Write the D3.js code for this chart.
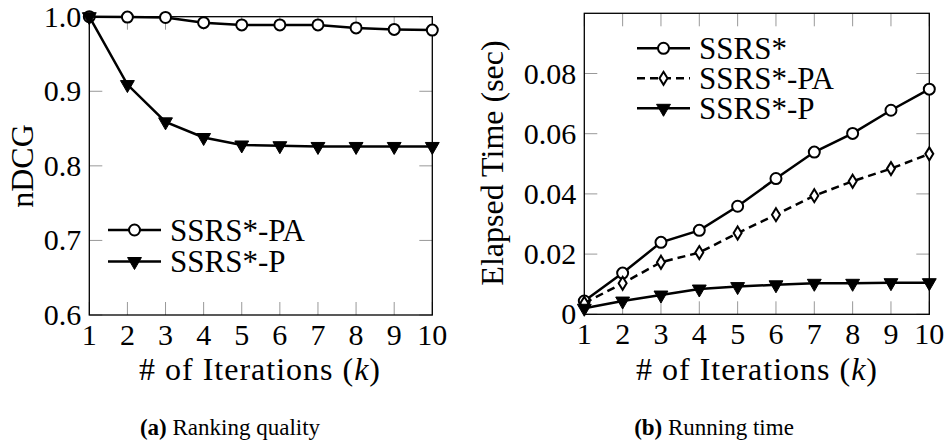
<!DOCTYPE html>
<html>
<head>
<meta charset="utf-8">
<script src="https://cdn.jsdelivr.net/npm/d3@7"></script>
<style>
  body { margin: 0; background: #fff; }
  svg text { font-family: "Liberation Serif", "Times New Roman", serif; fill: #000; }
</style>
</head>
<body>
<script>
// iterations on the x axis (shared)
var iterations = [1, 2, 3, 4, 5, 6, 7, 8, 9, 10]

// (a) ranking quality, nDCG
var ndcgPA = [1.0, 0.9995, 0.999, 0.992, 0.989, 0.989, 0.989, 0.985, 0.983, 0.982]
var ndcgP = [1.0, 0.909, 0.859, 0.838, 0.828, 0.827, 0.826, 0.826, 0.826, 0.826]
var ndcgTicks = [0.6, 0.7, 0.8, 0.9, 1.0]

// (b) running time, seconds
var timeS = [0.0044, 0.0137, 0.0239, 0.0279, 0.0359, 0.0451, 0.0539, 0.0601, 0.0678, 0.0748]
var timePA = [0.0037, 0.0103, 0.0173, 0.0205, 0.0270, 0.0331, 0.0394, 0.0442, 0.0484, 0.0533]
var timeP = [0.0020, 0.0044, 0.0064, 0.0084, 0.0092, 0.0098, 0.0103, 0.0103, 0.0105, 0.0105]
var timeTicks = [0, 0.02, 0.04, 0.06, 0.08]

var FONT = '"Liberation Serif", serif'

var svg = d3.select('body').append('svg')
  .attr('width', 947)
  .attr('height', 446)
  .attr('font-family', FONT)

// marker shapes
function drawMarker (g, type, x, y) {
  if (type === 'circle') {
    g.append('circle').attr('cx', x).attr('cy', y).attr('r', 5.5)
      .attr('fill', '#fff').attr('stroke', '#000').attr('stroke-width', 2)
  } else if (type === 'diamond') {
    g.append('path')
      .attr('d', 'M' + x + ',' + (y - 6.5) + 'L' + (x + 4) + ',' + y + 'L' + x + ',' + (y + 6.5) + 'L' + (x - 4) + ',' + y + 'Z')
      .attr('fill', '#fff').attr('stroke', '#000').attr('stroke-width', 2)
  } else {
    var R = 8
    var w = R * Math.sqrt(3) / 2
    g.append('path')
      .attr('d', 'M' + (x - w) + ',' + (y - R / 2) + 'L' + (x + w) + ',' + (y - R / 2) + 'L' + x + ',' + (y + R) + 'Z')
      .attr('fill', '#000').attr('stroke', '#000').attr('stroke-width', 1)
  }
}

function label (g, x, y, anchor, size) {
  return g.append('text').attr('x', x).attr('y', y)
    .attr('text-anchor', anchor)
    .style('font-family', FONT)
    .style('font-size', size)
}

function drawPanel (opt) {
  var x = d3.scaleLinear().domain([1, 10]).range([opt.left, opt.right])
  var y = d3.scaleLinear().domain(opt.yDomain).range([opt.bottom, opt.top])
  var g = svg.append('g')

  // tick marks inside the frame, all four sides
  var tickLen = 13
  iterations.forEach(function (v) {
    g.append('line').attr('x1', x(v)).attr('x2', x(v))
      .attr('y1', opt.bottom).attr('y2', opt.bottom - tickLen)
      .attr('stroke', '#999').attr('stroke-width', 1)
    g.append('line').attr('x1', x(v)).attr('x2', x(v))
      .attr('y1', opt.top).attr('y2', opt.top + tickLen)
      .attr('stroke', '#999').attr('stroke-width', 1)
  })
  opt.yTicks.forEach(function (v) {
    g.append('line').attr('x1', opt.left).attr('x2', opt.left + tickLen)
      .attr('y1', y(v)).attr('y2', y(v))
      .attr('stroke', '#999').attr('stroke-width', 1)
    g.append('line').attr('x1', opt.right).attr('x2', opt.right - tickLen)
      .attr('y1', y(v)).attr('y2', y(v))
      .attr('stroke', '#999').attr('stroke-width', 1)
  })

  // frame
  g.append('rect')
    .attr('x', opt.left).attr('y', opt.top)
    .attr('width', opt.right - opt.left).attr('height', opt.bottom - opt.top)
    .attr('fill', 'none').attr('stroke', '#000').attr('stroke-width', 1.3)

  // tick labels
  iterations.forEach(function (v) {
    label(g, x(v), opt.bottom + 30, 'middle', '30px').text(v)
  })
  opt.yTicks.forEach(function (v) {
    label(g, opt.left - 8, y(v) + 10, 'end', '30px').text(opt.fmt(v))
  })

  // axis titles
  var xl = label(g, opt.xLabelX, 380, 'middle', '32px')
    .style('letter-spacing', '1px')
  xl.append('tspan').text('# of Iterations (')
  xl.append('tspan').style('font-style', 'italic').text('k')
  xl.append('tspan').text(')')

  label(g, 0, 0, 'middle', '32px')
    .attr('transform', 'translate(' + opt.yLabelX + ',' + opt.yLabelY + ') rotate(-90)')
    .text(opt.yLabel)

  // series
  var line = d3.line()
    .x(function (d, i) { return x(iterations[i]) })
    .y(function (d) { return y(d) })
  opt.series.forEach(function (s) {
    g.append('path').datum(s.values)
      .attr('d', line)
      .attr('fill', 'none').attr('stroke', '#000').attr('stroke-width', 2.5)
      .attr('stroke-dasharray', s.dash ? '8,5' : null)
    s.values.forEach(function (d, i) {
      drawMarker(g, s.marker, x(iterations[i]), y(d))
    })
  })

  // legend
  opt.series.forEach(function (s, i) {
    var ly = opt.legendY + i * opt.legendStep
    g.append('line').attr('x1', opt.legendX).attr('x2', opt.legendX + 53)
      .attr('y1', ly).attr('y2', ly)
      .attr('stroke', '#000').attr('stroke-width', 2.5)
      .attr('stroke-dasharray', s.dash ? '8,5' : null)
    drawMarker(g, s.marker, opt.legendX + 26.5, ly)
    label(g, opt.legendX + 62, ly + 10.5, 'start', '31px').text(s.name)
  })

  // caption
  var cap = label(g, opt.capX, 435, 'middle', '23px')
  cap.append('tspan').style('font-weight', 'bold').text(opt.capTag)
  cap.append('tspan').text(' ' + opt.caption)
}

drawPanel({
  left: 89.3, right: 432.3, top: 16.7, bottom: 315,
  yDomain: [0.6, 1.0], yTicks: ndcgTicks,
  fmt: function (v) { return v.toFixed(1) },
  yLabel: 'nDCG', yLabelX: 33, yLabelY: 166,
  xLabelX: 260,
  series: [
    { name: 'SSRS*-PA', values: ndcgPA, marker: 'circle', dash: false },
    { name: 'SSRS*-P', values: ndcgP, marker: 'triangle', dash: false }
  ],
  legendX: 108, legendY: 230, legendStep: 31.5,
  capX: 230, capTag: '(a)', caption: 'Ranking quality'
})

drawPanel({
  left: 584.3, right: 929.3, top: 13.3, bottom: 314.3,
  yDomain: [0, 0.1], yTicks: timeTicks,
  fmt: function (v) { return v === 0 ? '0' : v.toFixed(2) },
  yLabel: 'Elapsed Time (sec)', yLabelX: 503, yLabelY: 163,
  xLabelX: 757,
  series: [
    { name: 'SSRS*', values: timeS, marker: 'circle', dash: false },
    { name: 'SSRS*-PA', values: timePA, marker: 'diamond', dash: true },
    { name: 'SSRS*-P', values: timeP, marker: 'triangle', dash: false }
  ],
  legendX: 637, legendY: 48.3, legendStep: 30,
  capX: 714, capTag: '(b)', caption: 'Running time'
})
</script>
</body>
</html>
